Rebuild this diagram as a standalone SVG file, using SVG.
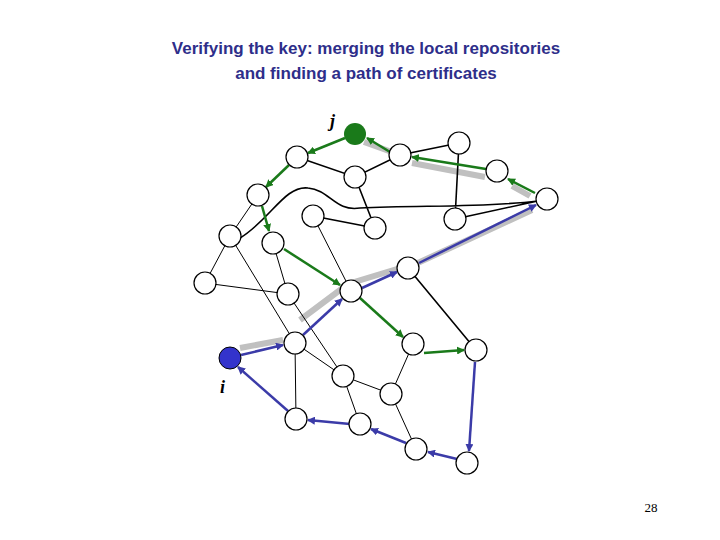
<svg xmlns="http://www.w3.org/2000/svg" width="720" height="540" viewBox="0 0 720 540">
<defs>
<style>
.n{fill:#fff;stroke:#000;stroke-width:1.2}
.e{stroke:#000;stroke-width:1;fill:none}
.e2{stroke:#000;stroke-width:1.6;fill:none}
.g{stroke:#c0c0c0;stroke-width:6;fill:none}
.gr{stroke:#1a7a1a;stroke-width:2.5;marker-end:url(#ag)}
.bl{stroke:#3b3ba8;stroke-width:2.5;marker-end:url(#ab)}
.t{font-family:"Liberation Sans",Arial,sans-serif;font-weight:bold;font-size:17px;fill:#2e2e8a;text-anchor:middle}
.l{font-family:"Liberation Serif",serif;font-style:italic;font-weight:bold;font-size:18px}
</style>
<marker id="ag" markerWidth="8" markerHeight="8" refX="7" refY="4" orient="auto" markerUnits="userSpaceOnUse"><path d="M0,0L8,4L0,8z" fill="#1a7a1a"/></marker>
<marker id="ab" markerWidth="8" markerHeight="8" refX="7" refY="4" orient="auto" markerUnits="userSpaceOnUse"><path d="M0,0L8,4L0,8z" fill="#3b3ba8"/></marker>
</defs>
<text class="t" x="366" y="54">Verifying the key: merging the local repositories</text>
<text class="t" x="366" y="79">and finding a path of certificates</text>
<g id="connectors">
<path class="g" d="M364,142L389,151M412,163L485,177M512,186L530,196M532,210L420,262L348,284L300,320M283,340L240,348"/>
<path class="e2" d="M297,157L355,177L400,155L459,143M355,177L375,228M313,216L375,228M459,143L455,219M455,219L547,199M240,238C270,220 285,185 308,188C330,190 335,212 360,208C420,205 480,208 538,201M408,268L476,350"/>
<path class="e" d="M258,195L230,236L205,283L288,294M230,236L295,343M273,243L288,294M313,216L351,291M295,343L296,419M295,343L343,376M288,294L343,376M343,376L391,394M343,376L360,424M391,394L413,344M391,394L416,449"/>
<line class="gr" x1="345" y1="138" x2="308" y2="153"/>
<line class="gr" x1="289" y1="165" x2="266" y2="187"/>
<line class="gr" x1="262" y1="206" x2="269" y2="231"/>
<line class="gr" x1="284" y1="249" x2="340" y2="285"/>
<line class="gr" x1="360" y1="298" x2="403" y2="337"/>
<line class="gr" x1="424" y1="353" x2="464" y2="350"/>
<line class="gr" x1="390" y1="152" x2="367" y2="138"/>
<line class="gr" x1="486" y1="169" x2="412" y2="157"/>
<line class="gr" x1="535" y1="193" x2="508" y2="179"/>
<line class="bl" x1="241" y1="355" x2="283" y2="345"/>
<line class="bl" x1="303" y1="335" x2="342" y2="299"/>
<line class="bl" x1="362" y1="288" x2="397" y2="272"/>
<line class="bl" x1="419" y1="263" x2="536" y2="205"/>
<line class="bl" x1="475" y1="362" x2="469" y2="451"/>
<line class="bl" x1="457" y1="459" x2="428" y2="452"/>
<line class="bl" x1="406" y1="443" x2="371" y2="429"/>
<line class="bl" x1="350" y1="424" x2="308" y2="420"/>
<line class="bl" x1="288" y1="411" x2="238" y2="367"/>
</g>
<g id="j"><circle cx="355" cy="134" r="11" fill="#1a7a1a"/></g>
<g id="i"><circle cx="230" cy="358" r="11" fill="#3333cc" stroke="#000" stroke-width="1"/></g>
<g id="A"><circle class="n" cx="297" cy="157" r="11"/></g>
<g id="B"><circle class="n" cx="400" cy="155" r="11"/></g>
<g id="C"><circle class="n" cx="459" cy="143" r="11"/></g>
<g id="D"><circle class="n" cx="355" cy="177" r="11"/></g>
<g id="E"><circle class="n" cx="497" cy="171" r="11"/></g>
<g id="F"><circle class="n" cx="547" cy="199" r="11"/></g>
<g id="G"><circle class="n" cx="258" cy="195" r="11"/></g>
<g id="H"><circle class="n" cx="313" cy="216" r="11"/></g>
<g id="I"><circle class="n" cx="375" cy="228" r="11"/></g>
<g id="K"><circle class="n" cx="455" cy="219" r="11"/></g>
<g id="L"><circle class="n" cx="230" cy="236" r="11"/></g>
<g id="M"><circle class="n" cx="273" cy="243" r="11"/></g>
<g id="N"><circle class="n" cx="408" cy="268" r="11"/></g>
<g id="O"><circle class="n" cx="205" cy="283" r="11"/></g>
<g id="P"><circle class="n" cx="288" cy="294" r="11"/></g>
<g id="Q"><circle class="n" cx="351" cy="291" r="11"/></g>
<g id="R"><circle class="n" cx="295" cy="343" r="11"/></g>
<g id="S"><circle class="n" cx="413" cy="344" r="11"/></g>
<g id="T"><circle class="n" cx="476" cy="350" r="11"/></g>
<g id="U"><circle class="n" cx="343" cy="376" r="11"/></g>
<g id="V"><circle class="n" cx="391" cy="394" r="11"/></g>
<g id="W"><circle class="n" cx="296" cy="419" r="11"/></g>
<g id="X"><circle class="n" cx="360" cy="424" r="11"/></g>
<g id="Y"><circle class="n" cx="416" cy="449" r="11"/></g>
<g id="Z"><circle class="n" cx="467" cy="463" r="11"/></g>
<text class="l" x="330" y="127">j</text>
<text class="l" x="220" y="393">i</text>
<text x="651" y="512" font-family="Liberation Serif,serif" font-size="13" text-anchor="middle">28</text>
</svg>
